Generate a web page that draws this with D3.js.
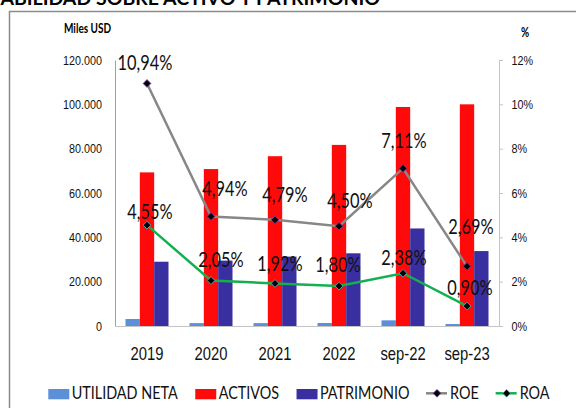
<!DOCTYPE html>
<html>
<head>
<meta charset="utf-8">
<script src="https://cdn.jsdelivr.net/npm/d3@7"></script>
<style>
	body { margin: 0; background: #fff; }
	svg { display: block; font-family: Lato, "Open Sans", sans-serif; }
</style>
</head>
<body>
<svg id="chart" width="576" height="408"></svg>
<script>
// chart data (Miles USD / %)
const categories = ['2019', '2020', '2021', '2022', 'sep-22', 'sep-23'];
const utilidadNeta = [3150, 1300, 1300, 1350, 2550, 900];
const activos = [69300, 70800, 76600, 81700, 98800, 100000];
const patrimonio = [29000, 29500, 31300, 32800, 44000, 33800];
const roe = [10.94, 4.94, 4.79, 4.50, 7.11, 2.69];
const roa = [4.55, 2.05, 1.92, 1.80, 2.38, 0.90];
const leftTicks = [0, 20000, 40000, 60000, 80000, 100000, 120000];
const rightTicks = [0, 2, 4, 6, 8, 10, 12];

// hand placed data labels in the original (dx, dy from the point)
const roeLabelShift = [[-2, -13], [14, -20], [10, -18], [11, -18], [1, -20], [4, -32]];
const roaLabelShift = [[3, -6], [10, -14], [5, -12], [-1, -14], [1, -8], [3, -11]];

const svg = d3.select('#chart');
const plot = {left: 115, right: 499, top: 60, bottom: 326};
const NARROW = 0.8; // the original font is a tall, narrow one

// move x/y into a transform so the text can be squeezed horizontally
function squeeze(sel) {
	sel.each(function() {
		const t = d3.select(this);
		const tx = +t.attr('x') || 0;
		const ty = +t.attr('y') || 0;
		t.attr('x', 0).attr('y', 0)
			.attr('transform', `translate(${tx}, ${ty}) scale(${NARROW}, 1)`);
	});
}

const barSeries = [
	{name: 'UTILIDAD NETA', values: utilidadNeta, color: '#5b8fd8'},
	{name: 'ACTIVOS', values: activos, color: '#ff0a0a'},
	{name: 'PATRIMONIO', values: patrimonio, color: '#3a2fa0'}
];
const lineSeries = [
	{name: 'ROE', values: roe, color: '#878787', edge: '#7a3fb0', shift: roeLabelShift},
	{name: 'ROA', values: roa, color: '#14b050', edge: '#44b8d0', shift: roaLabelShift}
];

// scales
const x = d3.scaleBand().domain(categories).range([plot.left, plot.right]);
const groupWidth = 43;
const xs = d3.scaleBand().domain(barSeries.map(s => s.name)).range([0, groupWidth]);
const yL = d3.scaleLinear().domain([0, 120000]).range([plot.bottom, plot.top]);
const yR = d3.scaleLinear().domain([0, 12]).range([plot.bottom, plot.top]);
const cx = c => x(c) + x.bandwidth() / 2;

// frame + title (cut off by the crop at top/left)
svg.append('path')
	.attr('d', 'M9.5,408V11.5H576')
	.attr('fill', 'none')
	.attr('stroke', '#8c8c8c')
	.attr('stroke-width', 1.5);
svg.append('text')
	.attr('x', 380).attr('y', 5)
	.attr('text-anchor', 'end')
	.style('font-size', '19.5px').style('font-weight', 'bold')
	.text('RENTABILIDAD SOBRE ACTIVO Y PATRIMONIO');

// unit captions
svg.append('text').attr('x', 64).attr('y', 33)
	.style('font-size', '12.5px').style('font-weight', 'bold')
	.text('Miles USD')
	.call(squeeze);
svg.append('text').attr('x', 525).attr('y', 37).attr('text-anchor', 'middle')
	.style('font-size', '12.5px').style('font-weight', 'bold')
	.text('%')
	.call(squeeze);

// axes
const thousands = d => d3.format(',')(d).replace(/,/g, '.');
const gL = svg.append('g')
	.attr('transform', `translate(${plot.left}, 0)`)
	.call(d3.axisLeft(yL).tickValues(leftTicks).tickSize(0).tickPadding(13).tickFormat(thousands));
gL.select('.domain').attr('stroke', '#a0a0a0');
gL.selectAll('text').style('font-size', '13.5px').attr('fill', '#111').call(squeeze);

const gR = svg.append('g')
	.attr('transform', `translate(${plot.right}, 0)`)
	.call(d3.axisRight(yR).tickValues(rightTicks).tickSize(4).tickSizeOuter(0).tickPadding(8.5).tickFormat(d => d + '%'));
gR.selectAll('.domain, line').attr('stroke', '#c4c4c4');
gR.selectAll('text').style('font-size', '13.5px').attr('fill', '#111').call(squeeze);

const gB = svg.append('g')
	.attr('transform', `translate(0, ${plot.bottom})`)
	.call(d3.axisBottom(x).tickSize(0).tickSizeOuter(0));
gB.select('.domain').attr('stroke', '#c4c4c4');
gB.selectAll('text')
	.attr('y', 34).attr('dy', 0)
	.style('font-size', '18.5px').attr('fill', '#111')
	.call(squeeze);

// bars
barSeries.forEach(s => {
	svg.append('g')
		.selectAll('rect').data(s.values).enter().append('rect')
		.attr('x', (d, i) => x(categories[i]) + (x.bandwidth() - groupWidth) / 2 + xs(s.name))
		.attr('y', d => yL(d))
		.attr('width', xs.bandwidth())
		.attr('height', d => yL(0) - yL(d))
		.attr('fill', s.color);
});

// lines + markers
const marker = d3.symbol(d3.symbolSquare, 30);
lineSeries.forEach(s => {
	const line = d3.line()
		.x((d, i) => cx(categories[i]))
		.y(d => yR(d));
	svg.append('path')
		.datum(s.values)
		.attr('d', line)
		.attr('fill', 'none')
		.attr('stroke', s.color)
		.attr('stroke-width', 2.5);
	svg.append('g')
		.selectAll('path').data(s.values).enter().append('path')
		.attr('d', marker)
		.attr('transform', (d, i) => `translate(${cx(categories[i])}, ${yR(d)}) rotate(45)`)
		.attr('fill', '#000')
		.attr('stroke', s.edge)
		.attr('stroke-width', 0.8);
});

// data labels
const pct = d => d.toFixed(2).replace('.', ',') + '%';
lineSeries.forEach(s => {
	svg.append('g')
		.selectAll('text').data(s.values).enter().append('text')
		.attr('x', (d, i) => cx(categories[i]) + s.shift[i][0])
		.attr('y', (d, i) => yR(d) + s.shift[i][1])
		.attr('text-anchor', 'middle')
		.style('font-size', '20.5px')
		.attr('fill', '#111')
		.text(pct)
		.call(squeeze);
});

// legend, laid out left to right
const legend = svg.append('g').attr('transform', 'translate(0, 399.3)');
var lx = 48.3;
barSeries.concat(lineSeries).forEach(s => {
	const item = legend.append('g').attr('transform', `translate(${lx}, 0)`);
	if (s.edge) {
		item.append('line')
			.attr('x1', -1).attr('x2', 20).attr('y1', -6).attr('y2', -6)
			.attr('stroke', s.color).attr('stroke-width', 2.5);
		item.append('path')
			.attr('d', marker)
			.attr('transform', 'translate(10, -6) rotate(45)')
			.attr('fill', '#000').attr('stroke', s.edge).attr('stroke-width', 0.8);
	} else {
		item.append('rect')
			.attr('x', 0).attr('y', -10.3)
			.attr('width', 21).attr('height', 10.3)
			.attr('fill', s.color);
	}
	const t = item.append('text')
		.attr('x', s.edge ? 23 : 23.4)
		.style('font-size', '18px')
		.attr('fill', '#111')
		.text(s.name)
		.call(squeeze);
	lx += 23.4 + t.node().getComputedTextLength() * NARROW + 17.5;
});
</script>
</body>
</html>
